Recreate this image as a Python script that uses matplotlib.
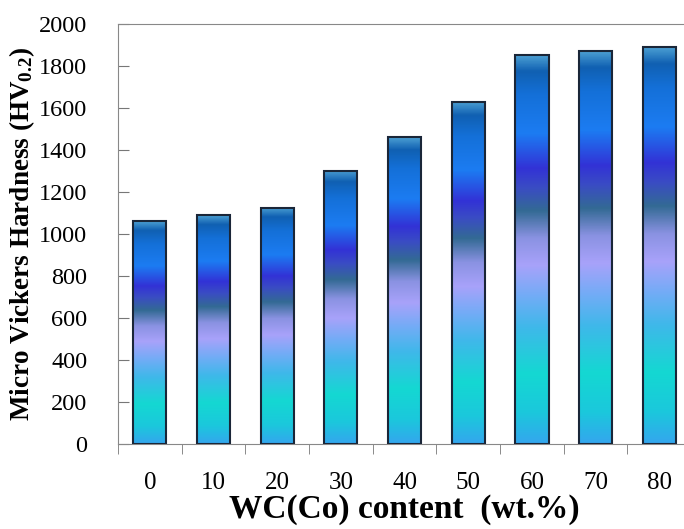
import numpy as np
import matplotlib.pyplot as plt
from matplotlib.colors import LinearSegmentedColormap

plt.rcParams['font.family'] = ['Liberation Serif', 'DejaVu Serif']
plt.rcParams['mathtext.fontset'] = 'custom'
plt.rcParams['mathtext.rm'] = 'Liberation Serif:bold'
plt.rcParams['mathtext.default'] = 'rm'

labels = ['0', '10', '20', '30', '40', '50', '60', '70', '80']
hardness = [1060, 1090, 1125, 1300, 1460, 1630, 1850, 1870, 1890]

# gradient stops along each bar (bottom -> top)
stops = [
    (0.00, '#34a6ee'),
    (0.08, '#1bc8dc'),
    (0.18, '#14d8d2'),
    (0.30, '#3fb8ea'),
    (0.38, '#72acf6'),
    (0.46, '#a8a2fa'),
    (0.53, '#8a92e2'),
    (0.60, '#336a94'),
    (0.66, '#3a4cc4'),
    (0.71, '#3232d6'),
    (0.80, '#1c7cf2'),
    (0.90, '#1470d8'),
    (0.96, '#1060b2'),
    (1.00, '#4a9ed2'),
]
cmap = LinearSegmentedColormap.from_list('bar', stops)

fig = plt.figure(figsize=(6.84, 5.29), dpi=100)
ax = fig.add_axes([0.1725, 0.161, 0.838, 0.794])

x = np.arange(len(labels))
width = 0.52
grad = np.linspace(0, 1, 256).reshape(-1, 1)
bars = ax.bar(x, hardness, width=width, color='none', edgecolor='#1a2638', linewidth=1.5, zorder=3)
for b, h in zip(bars, hardness):
    im = ax.imshow(grad, cmap=cmap, origin='lower', aspect='auto',
                   extent=[b.get_x(), b.get_x() + width, 0, h], zorder=2)
    im.set_clip_path(b)

ax.set_xlim(-0.5, 8.5)
ax.set_ylim(0, 2000)
ax.set_yticks(range(0, 2001, 200))
ax.set_xticks(x)
ax.set_xticklabels(labels)
ax.set_xticks(np.arange(-0.5, 9, 1), minor=True)
ax.tick_params(axis='x', which='major', length=0, pad=20, labelsize=18)
ax.tick_params(axis='x', which='minor', length=7, direction='out', color='#777777')
ax.tick_params(axis='y', direction='in', length=8, pad=22, labelsize=17.5, color='#777777')

for s in ['left', 'bottom', 'top']:
    ax.spines[s].set_color('#888888')
ax.spines['right'].set_visible(False)

ax.set_ylabel(r'Micro Vickers Hardness (HV$_{0.2}$)', fontsize=19.5, fontweight='bold')
ax.yaxis.set_label_coords(-0.142, 0.5)
ax.set_xlabel('WC(Co) content  (wt.%)', fontsize=24, fontweight='bold', labelpad=0)

fig.savefig('out.png', dpi=100)
